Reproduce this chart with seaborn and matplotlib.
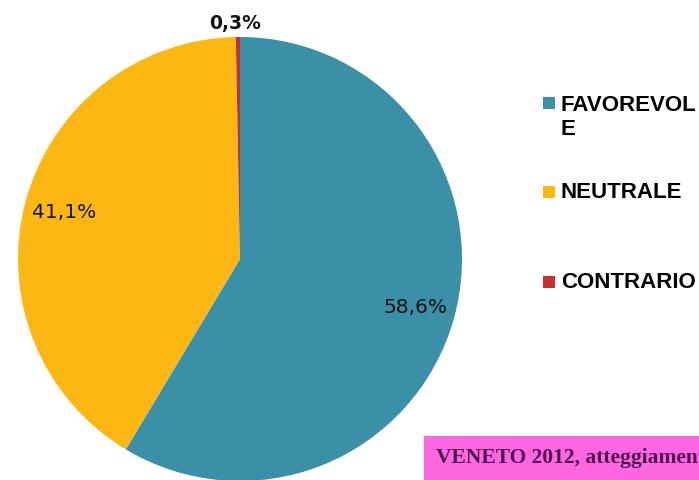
import matplotlib
matplotlib.use("Agg")
import matplotlib.pyplot as plt
from matplotlib.patches import Rectangle
import numpy as np
import seaborn as sns

# ---- data ----
categories = ["FAVOREVOLE", "NEUTRALE", "CONTRARIO"]
legend_labels = ["FAVOREVOL\nE", "NEUTRALE", "CONTRARIO"]
values = [58.6, 41.1, 0.3]
colors_hex = ["#3A90A6", "#FDB713", "#C8302E"]
note_lines = ["VENETO 2012, atteggiamento", "FAVOREVOLE: 44,5%"]

sns.set_theme(style="white")
plt.rcParams["font.family"] = ["DejaVu Sans"]
palette = sns.color_palette(colors_hex)

W, H = 699, 480
fig = plt.figure(figsize=(W / 100, H / 100), dpi=100)
fig.patch.set_facecolor("white")

# pie axes: centre (240,259) px, radius 222 px
cx, cy, r = 240, 259, 222
ax = fig.add_axes([(cx - r) / W, (H - (cy + r)) / H, 2 * r / W, 2 * r / H])


def fmt(p):
    return f"{p:.1f}".replace(".", ",") + "%"


wedges, texts, autotexts = ax.pie(
    values,
    colors=palette,
    startangle=90,
    counterclock=False,
    autopct=lambda p: fmt(p),
    pctdistance=0.82,
    textprops=dict(fontsize=14.5, color="#111111"),
    wedgeprops=dict(linewidth=0),
)
ax.set_xlim(-1, 1)
ax.set_ylim(-1, 1)
ax.axis("off")

# small slice label outside, bold
w = wedges[2]
ang = np.deg2rad((w.theta1 + w.theta2) / 2)
autotexts[2].set_position((1.067 * np.cos(ang) - 0.01, 1.062 * np.sin(ang)))
autotexts[2].set_fontweight("bold")
autotexts[2].set_fontsize(13.5)

# legend drawn manually
sq = 12
legend_y = [117.5, 192, 282]
square_y = [103, 192, 282]
for lab, col, ty, sy in zip(legend_labels, palette, legend_y, square_y):
    fig.patches.append(Rectangle((543 / W, (H - sy - sq / 2) / H), sq / W, sq / H,
                                 transform=fig.transFigure, facecolor=col,
                                 edgecolor="none"))
    fig.text(561 / W, (H - ty) / H, lab, fontsize=16, fontweight="bold",
             family=["Liberation Sans", "DejaVu Sans"], va="center", ha="left",
             color="black", linespacing=1.2)

# pink note box
fig.patches.append(Rectangle((424 / W, 0), (W - 424) / W, (H - 436) / H,
                             transform=fig.transFigure, facecolor="#FF66E2",
                             edgecolor="none"))
fig.text(436 / W, (H - 463) / H, note_lines[0], fontsize=15.5, fontweight="bold",
         family=["Liberation Serif", "DejaVu Serif"], color="#4A1450",
         va="baseline", ha="left")
fig.text(436 / W, (H - 494) / H, note_lines[1], fontsize=15.5, fontweight="bold",
         family=["Liberation Serif", "DejaVu Serif"], color="#2A0A30",
         va="baseline", ha="left")

fig.savefig("out.png", dpi=100)
